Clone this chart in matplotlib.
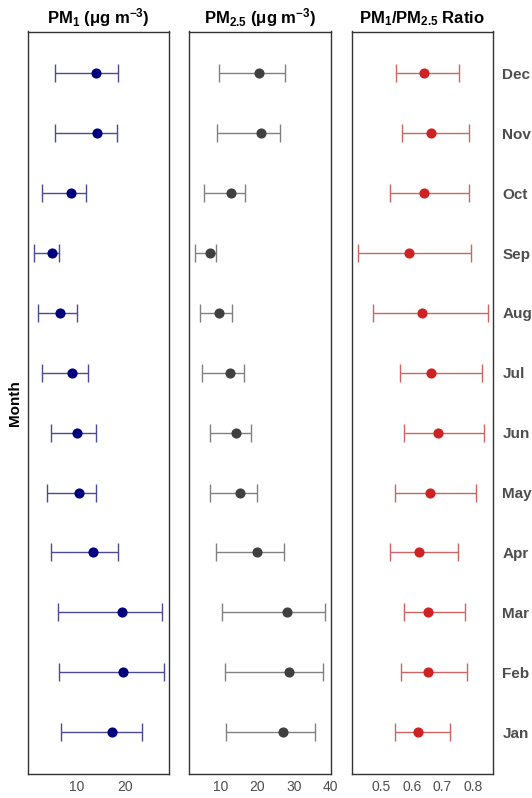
import matplotlib
matplotlib.use("Agg")
import matplotlib.pyplot as plt
import numpy as np

plt.rcParams['font.family'] = ['Liberation Sans', 'DejaVu Sans']
plt.rcParams['mathtext.fontset'] = 'custom'
plt.rcParams['mathtext.rm'] = 'Liberation Sans:bold'
plt.rcParams['mathtext.it'] = 'Liberation Sans:bold'
plt.rcParams['mathtext.bf'] = 'Liberation Sans:bold'
plt.rcParams['mathtext.sf'] = 'Liberation Sans:bold'

months = ["Jan", "Feb", "Mar", "Apr", "May", "Jun", "Jul", "Aug", "Sep", "Oct", "Nov", "Dec"]

pm1_mean = [17.4, 19.6, 19.4, 13.4, 10.5, 10.2, 9.2, 6.7, 4.9, 8.9, 14.2, 14.0]
pm1_low  = [6.8, 6.5, 6.2, 4.8, 4.0, 4.7, 2.9, 2.2, 1.2, 2.9, 5.6, 5.7]
pm1_high = [23.6, 28.1, 27.7, 18.6, 14.1, 14.1, 12.4, 10.2, 6.5, 12.1, 18.4, 18.6]

pm25_mean = [26.9, 28.7, 28.2, 20.0, 15.3, 14.2, 12.5, 9.5, 7.1, 12.7, 21.0, 20.5]
pm25_low  = [11.5, 11.2, 10.3, 8.7, 7.1, 7.1, 4.9, 4.4, 3.1, 5.4, 9.0, 9.6]
pm25_high = [35.7, 38.0, 38.6, 27.2, 19.8, 18.3, 16.3, 13.2, 8.6, 16.7, 26.2, 27.6]

ratio_mean = [0.620, 0.654, 0.653, 0.622, 0.659, 0.684, 0.664, 0.633, 0.589, 0.638, 0.662, 0.641]
ratio_low  = [0.546, 0.565, 0.575, 0.530, 0.546, 0.574, 0.562, 0.474, 0.424, 0.529, 0.568, 0.548]
ratio_high = [0.723, 0.781, 0.772, 0.749, 0.810, 0.837, 0.829, 0.848, 0.794, 0.788, 0.785, 0.753]

pm1_ticks = [10, 20]
pm25_ticks = [10, 20, 30, 40]
ratio_ticks = [0.5, 0.6, 0.7, 0.8]

W, H = 532, 798
fig = plt.figure(figsize=(W / 100, H / 100), dpi=100)

bottom = (H - 774) / H
height = (774 - 31.5) / H

panels = [
    dict(left=27.8, right=169.3, mean=pm1_mean, low=pm1_low, high=pm1_high,
         xlim=(0, 29.2), ticks=pm1_ticks, labels=["10", "20"],
         pc="#00007f", ec="#4a4a96", title=r"PM$_1$ (μg m$^{-3}$)"),
    dict(left=188.9, right=330.8, mean=pm25_mean, low=pm25_low, high=pm25_high,
         xlim=(1.3, 40.1), ticks=pm25_ticks, labels=["10", "20", "30", "40"],
         pc="#404040", ec="#808080", title=r"PM$_{2.5}$ (μg m$^{-3}$)"),
    dict(left=351.6, right=492.7, mean=ratio_mean, low=ratio_low, high=ratio_high,
         xlim=(0.403, 0.864), ticks=ratio_ticks, labels=["0.5", "0.6", "0.7", "0.8"],
         pc="#cf2222", ec="#d06464", title=r"PM$_1$/PM$_{2.5}$ Ratio"),
]

y = np.arange(1, len(months) + 1)
for i, p in enumerate(panels):
    ax = fig.add_axes([p["left"] / W, bottom, (p["right"] - p["left"]) / W, height])
    mean = np.array(p["mean"])
    lo = mean - np.array(p["low"])
    hi = np.array(p["high"]) - mean
    ax.errorbar(mean, y, xerr=[lo, hi], fmt="none", ecolor=p["ec"],
                elinewidth=1.0, capsize=6.5, capthick=1.0, zorder=2)
    ax.plot(mean, y, "o", color=p["pc"], markersize=6.3, zorder=3)
    ax.set_xlim(*p["xlim"])
    ax.set_ylim(0.3, 12.7)
    ax.set_xticks(p["ticks"])
    ax.set_xticklabels(p["labels"], fontsize=10, color="#4d4d4d")
    ax.tick_params(axis="x", length=0, pad=4)
    for s in ax.spines.values():
        s.set_color("#333333")
        s.set_linewidth(1.0)
    ax.set_title(p["title"], fontsize=12, fontweight="bold", pad=6)
    if i == 2:
        ax.yaxis.tick_right()
        ax.set_yticks(y)
        ax.set_yticklabels(months, fontsize=11, fontweight="bold", color="#4d4d4d")
        ax.tick_params(axis="y", length=0, pad=7)
    else:
        ax.set_yticks([])
    if i == 0:
        ax.set_ylabel("Month", fontsize=11, fontweight="bold", labelpad=4)

fig.savefig("out.png", dpi=100)
